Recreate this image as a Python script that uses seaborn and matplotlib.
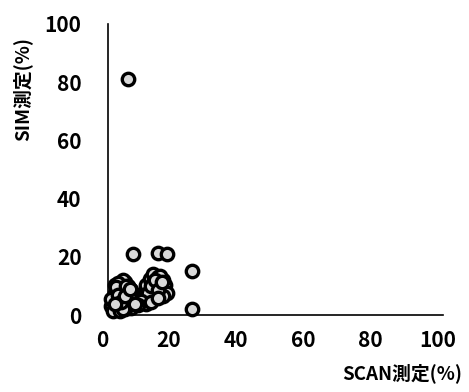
import matplotlib
matplotlib.use("Agg")
import matplotlib.pyplot as plt
import matplotlib.transforms as mtransforms
import seaborn as sns
import pandas as pd

scan = [6.0, 7.5, 15.0, 17.5, 25.0, 25.0,
        1.0, 1.5, 2.0, 2.0, 2.5, 3.0, 3.0, 3.5, 4.0, 4.0, 4.5, 5.0, 5.0, 5.5,
        6.0, 6.0, 6.5, 7.0, 7.0, 1.5, 2.5, 3.5, 4.5, 5.5, 6.5, 2.0, 3.0, 4.0,
        5.0, 6.0, 1.0, 2.5, 3.5, 4.5, 5.5, 3.0, 4.0, 5.0, 2.0, 6.5,
        10.5, 11.0, 11.5, 12.0, 12.5, 13.0, 13.5, 14.0, 14.5, 15.0, 15.5, 16.0,
        16.5, 17.0, 17.5, 11.5, 12.5, 13.5, 14.5, 15.5, 16.5, 12.0, 13.0, 14.0,
        15.0, 16.0, 10.0, 13.0, 15.0, 9.0, 8.0]
sim = [81.0, 21.0, 21.5, 21.0, 15.0, 2.0,
       3.0, 5.0, 2.0, 7.5, 4.0, 9.0, 2.5, 6.0, 10.0, 3.5, 8.0, 5.0, 11.5, 3.0,
       7.0, 10.0, 4.5, 8.5, 2.5, 1.5, 6.5, 4.0, 12.0, 8.0, 6.0, 10.5, 11.0,
       6.5, 2.0, 4.0, 5.5, 9.5, 1.5, 2.0, 10.0, 7.0, 4.5, 6.5, 4.0, 9.0,
       5.5, 8.0, 10.5, 6.0, 12.5, 9.0, 14.0, 7.0, 11.0, 13.0, 9.5, 8.0, 12.0,
       10.5, 7.5, 4.0, 5.0, 11.0, 9.0, 13.5, 6.5, 7.5, 10.0, 12.0, 8.5, 11.5,
       5.0, 4.5, 6.0, 3.5, 4.0]
ticks = [0, 20, 40, 60, 80, 100]

df = pd.DataFrame({"SCAN": scan, "SIM": sim})

sns.set_style("white")
plt.rcParams['font.family'] = ['Noto Sans CJK JP', 'DejaVu Sans']
plt.rcParams['text.color'] = 'black'
plt.rcParams['xtick.color'] = 'black'
plt.rcParams['ytick.color'] = 'black'

fig = plt.figure(figsize=(4.69, 3.92), dpi=100)
ax = fig.add_axes([0.230, 0.196, 0.715, 0.743])

sns.scatterplot(data=df, x="SCAN", y="SIM", ax=ax, s=80, color="#d9d9d9",
                edgecolor="black", linewidth=2.4, zorder=3, clip_on=False)

ax.set_xlim(0, 100)
ax.set_ylim(0, 100)
ax.set_xticks(ticks)
ax.set_yticks(ticks)
ax.tick_params(direction="in", length=6, width=1, labelsize=15,
               color="black", labelcolor="black")
ax.tick_params(axis="y", pad=19)
ax.tick_params(axis="x", pad=11)
for lab in ax.get_xticklabels() + ax.get_yticklabels():
    lab.set_fontweight("bold")
offset = mtransforms.ScaledTranslation(-6 / 100, 0, fig.dpi_scale_trans)
for lab in ax.get_xticklabels():
    lab.set_transform(lab.get_transform() + offset)
sns.despine(ax=ax)
for sp in ["left", "bottom"]:
    ax.spines[sp].set_color("black")
    ax.spines[sp].set_linewidth(1.2)

ax.set_xlabel("")
ax.set_ylabel("")
fig.text(0.985, 0.022, "SCAN測定(%)", ha="right", va="bottom",
         fontsize=13.5, fontweight="bold", color="black")
fig.text(0.047, 0.773, "SIM測定(%)", ha="center", va="center", rotation=90,
         fontsize=13.5, fontweight="bold", color="black")

fig.savefig("out.png", dpi=100)
